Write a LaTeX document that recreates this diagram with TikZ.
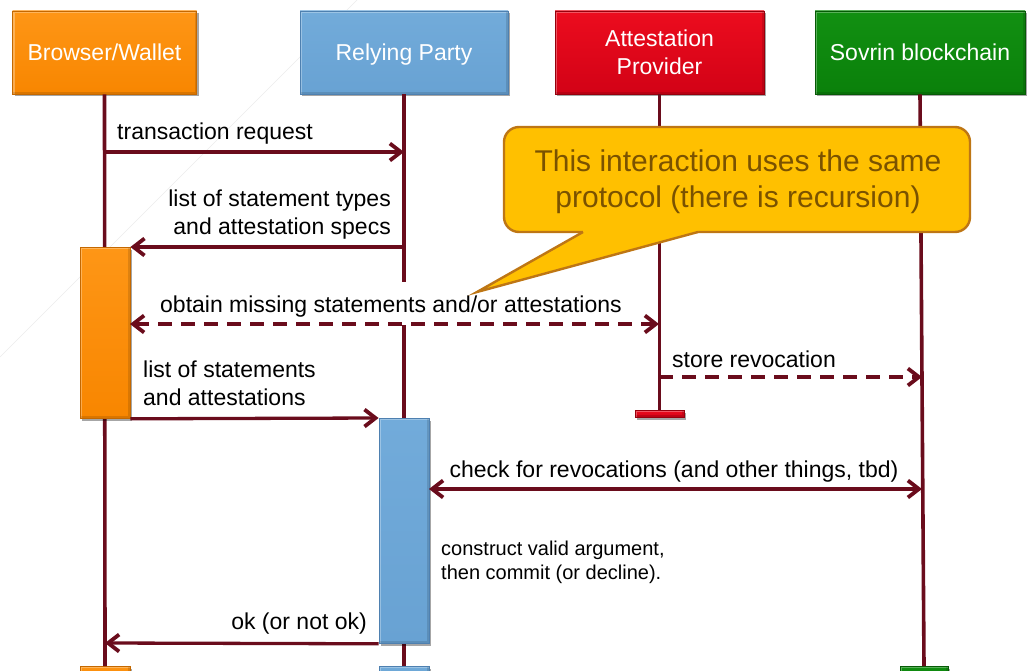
\documentclass[tikz,border=0pt]{standalone}
\usepackage{fontspec}
\setmainfont{Liberation Sans}
\usetikzlibrary{arrows.meta,shadows,calc}
\definecolor{orgtop}{RGB}{254,150,22}
\definecolor{orgbot}{RGB}{248,134,0}
\definecolor{orgline}{RGB}{196,104,0}
\definecolor{bluetop}{RGB}{114,171,218}
\definecolor{bluebot}{RGB}{104,162,211}
\definecolor{blueline}{RGB}{78,128,176}
\definecolor{redtop}{RGB}{236,12,30}
\definecolor{redbot}{RGB}{210,2,22}
\definecolor{redline}{RGB}{150,0,12}
\definecolor{greentop}{RGB}{18,144,18}
\definecolor{greenbot}{RGB}{10,128,10}
\definecolor{greenline}{RGB}{6,90,6}
\definecolor{life}{RGB}{106,12,28}
\definecolor{notefill}{RGB}{255,192,0}
\definecolor{noteline}{RGB}{190,118,20}
\definecolor{notetext}{RGB}{122,82,0}
\begin{document}
\begin{tikzpicture}[x=1pt,y=-1pt,
  box/.style={draw=#1line, line width=0.8pt, top color=#1top, bottom color=#1bot,
    drop shadow={shadow xshift=2pt,shadow yshift=-2.5pt,opacity=0.35,fill=black},
    path picture={
      \draw[white, opacity=0.3, line width=4pt]
        (path picture bounding box.south west) -- (path picture bounding box.north west)
        -- (path picture bounding box.north east);
      \draw[black, opacity=0.12, line width=4pt]
        (path picture bounding box.north east) -- (path picture bounding box.south east)
        -- (path picture bounding box.south west);},
    inner sep=0pt},
  head/.style={box=#1, text=white, font=\fontsize{23}{28}\selectfont, align=center},
  oneline/.style={text height=17pt, text depth=0pt},
  lifeline/.style={draw=life, line width=3.6pt},
  msgline/.style={draw=life, line width=3.3pt,
    >={Straight Barb[length=11pt,width=17pt,line width=3.8pt]}},
  asyncline/.style={msgline, dash pattern=on 14pt off 9pt},
  lbl/.style={font=\fontsize{23}{28}\selectfont, inner sep=0pt, text depth=0pt},
  smalllbl/.style={font=\fontsize{20}{24}\selectfont, inner sep=0pt, text depth=0pt, align=left},
  notebox/.style={draw=noteline, line width=2.4pt, fill=notefill, rounded corners=15pt},
  notetxt/.style={text=notetext, font=\fontsize{30}{36}\selectfont, align=center, inner sep=0pt}
]
\useasboundingbox (0,0) rectangle (1028,671);

% faint guide stroke behind everything
\draw[gray!16, line width=0.7pt] (357,0) -- (0,357);

% participants
\node[head=org, oneline,   minimum width=184pt, minimum height=83pt] (bw) at (104.5,52.5) {Browser/Wallet};
\node[head=blue, oneline,  minimum width=208pt, minimum height=83pt] (rp) at (404,52.5) {Relying Party};
\node[head=red,            minimum width=209pt, minimum height=83pt] (ap) at (659.5,52.5) {Attestation\\Provider};
\node[head=green, oneline, minimum width=210pt, minimum height=83pt] (sb) at (920,52.5) {Sovrin blockchain};

% end bars
\node[box=org,   minimum width=50pt, minimum height=10pt, anchor=north] (bwend) at (105,666) {};
\node[box=blue,  minimum width=50pt, minimum height=10pt, anchor=north] (rpend) at (404,666) {};
\node[box=red,   minimum width=49pt, minimum height=7pt,  anchor=north] (apend) at (659.5,410) {};
\node[box=green, minimum width=48pt, minimum height=10pt, anchor=north] (sbend) at (924,666) {};

% lifelines
\draw[lifeline] (bw.south) -- (bwend.north);
\draw[lifeline] (rp.south) -- (rpend.north);
\draw[lifeline] (ap.south) -- (apend.north);
\draw[lifeline] (sb.south) -- (sbend.north);

% activations
\node[box=org,  minimum width=50pt, minimum height=171pt, anchor=north] (bwact) at (105,247) {};
\node[box=blue, minimum width=50pt, minimum height=225pt, anchor=north] (rpact) at (404,418) {};

% message end points
\coordinate (m1a) at (105,152);
\coordinate (m1b) at (404,152);
\coordinate (m2a) at (404,247);
\coordinate (m3a) at (130,324);
\coordinate (m3b) at (659,324);
\coordinate (m4a) at (659,377);
\coordinate (m4b) at (922,377);
\coordinate (m6a) at (429,489);
\coordinate (m6b) at (922,489);
\coordinate (m8b) at (105,643);

% labels
\node[lbl, anchor=base west] (l1) at (117,140) {transaction request};
\node[lbl, anchor=south east, align=right] (l2) at (391,235) {list of statement types\\and attestation specs};
\node[lbl, anchor=base west, fill=white, text height=30pt, text depth=13pt] (l3) at (160,312)
  {obtain missing statements and/or attestations};
\node[lbl, anchor=base west] (l4) at (672,367) {store revocation};
\node[lbl, anchor=south west, align=left] (l5) at (143,406) {list of statements\\and attestations};
\node[lbl, anchor=base] (l6) at (674,477) {check for revocations (and other things, tbd)};
\node[smalllbl, anchor=south west] (l7) at (441,580) {construct valid argument,\\then commit (or decline).};
\node[lbl, anchor=base east] (l8) at (367,629) {ok (or not ok)};

% messages
\draw[msgline, ->] (m1a) -- (m1b);
\draw[msgline, ->] (m2a) -- (bwact.north east);
\draw[asyncline, <->] (m3a) -- (m3b);
\draw[asyncline, ->] (m4a) -- (m4b);
\draw[msgline, ->] (bwact.south east) -- (rpact.north west);
\draw[msgline, <->] (m6a) -- (m6b);
\draw[msgline, ->] (rpact.south west) -- (m8b);

% note with pointer
\node[notebox, minimum width=466pt, minimum height=105pt] (note) at (737,179.5) {};
\coordinate (pl) at (583,232);
\coordinate (pr) at (698,232);
\coordinate (tip) at (477,292);
\fill[notefill] (pl) -- (tip) -- (pr) -- ++(0,-3.5) -- ($(pl)+(0,-3.5)$) -- cycle;
\draw[noteline, line width=2.4pt, line join=miter] (pl) -- (tip) -- (pr);
\node[notetxt] (notetext) at (738,182.2) {This interaction uses the same\\protocol (there is recursion)};
\end{tikzpicture}
\end{document}
